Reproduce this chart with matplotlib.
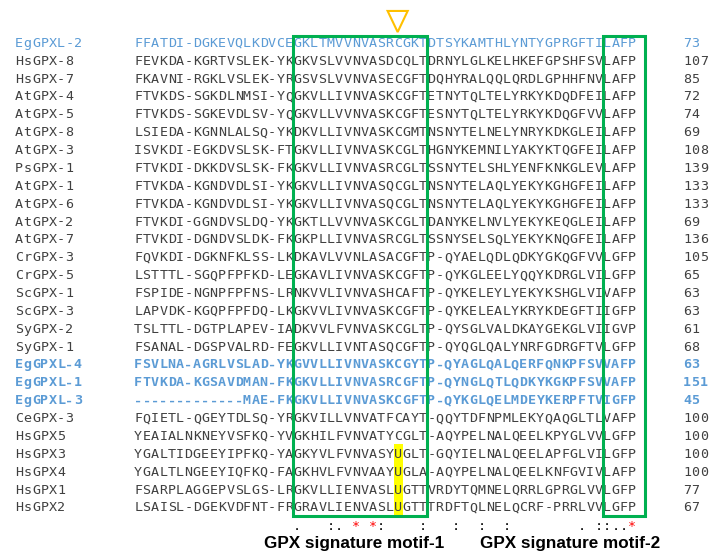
"""
GPX alignment with the two signature motifs boxed
"""

import matplotlib
matplotlib.use("Agg")
import matplotlib.pyplot as plt
from matplotlib.patches import Rectangle, Polygon

names = ["EgGPXL-2", "HsGPX-8", "HsGPX-7", "AtGPX-4", "AtGPX-5", "AtGPX-8",
         "AtGPX-3", "PsGPX-1", "AtGPX-1", "AtGPX-6", "AtGPX-2", "AtGPX-7",
         "CrGPX-3", "CrGPX-5", "ScGPX-1", "ScGPX-3", "SyGPX-2", "SyGPX-1",
         "EgGPXL-4", "EgGPXL-1", "EgGPXL-3", "CeGPX-3", "HsGPX5", "HsGPX3",
         "HsGPX4", "HsGPX1", "HsGPX2"]

seqs = [
    "FFATDI-DGKEVQLKDVCEGKLTMVVNVASRCGKTDTSYKAMTHLYNTYGPRGFTILAFP",
    "FEVKDA-KGRTVSLEK-YKGKVSLVVNVASDCQLTDRNYLGLKELHKEFGPSHFSVLAFP",
    "FKAVNI-RGKLVSLEK-YRGSVSLVVNVASECGFTDQHYRALQQLQRDLGPHHFNVLAFP",
    "FTVKDS-SGKDLNMSI-YQGKVLLIVNVASKCGFTETNYTQLTELYRKYKDQDFEILAFP",
    "FTVKDS-SGKEVDLSV-YQGKVLLVVNVASKCGFTESNYTQLTELYRKYKDQGFVVLAFP",
    "LSIEDA-KGNNLALSQ-YKDKVLLIVNVASKCGMTNSNYTELNELYNRYKDKGLEILAFP",
    "ISVKDI-EGKDVSLSK-FTGKVLLIVNVASKCGLTHGNYKEMNILYAKYKTQGFEILAFP",
    "FTVKDI-DKKDVSLSK-FKGKVLLIVNVASRCGLTSSNYTELSHLYENFKNKGLEVLAFP",
    "FTVKDA-KGNDVDLSI-YKGKVLLIVNVASQCGLTNSNYTELAQLYEKYKGHGFEILAFP",
    "FTVKDA-KGNDVDLSI-YKGKVLLIVNVASQCGLTNSNYTELAQLYEKYKGHGFEILAFP",
    "FTVKDI-GGNDVSLDQ-YKGKTLLVVNVASKCGLTDANYKELNVLYEKYKEQGLEILAFP",
    "FTVKDI-DGNDVSLDK-FKGKPLLIVNVASRCGLTSSNYSELSQLYEKYKNQGFEILAFP",
    "FQVKDI-DGKNFKLSS-LKDKAVLVVNLASACGFTP-QYAELQDLQDKYGKQGFVVLGFP",
    "LSTTTL-SGQPFPFKD-LEGKAVLIVNVASKCGFTP-QYKGLEELYQQYKDRGLVILGFP",
    "FSPIDE-NGNPFPFNS-LRNKVVLIVNVASHCAFTP-QYKELEYLYEKYKSHGLVIVAFP",
    "LAPVDK-KGQPFPFDQ-LKGKVVLIVNVASKCGFTP-QYKELEALYKRYKDEGFTIIGFP",
    "TSLTTL-DGTPLAPEV-IADKVVLFVNVASKCGLTP-QYSGLVALDKAYGEKGLVIIGVP",
    "FSANAL-DGSPVALRD-FEGKVLLIVNTASQCGFTP-QYQGLQALYNRFGDRGFTVLGFP",
    "FSVLNA-AGRLVSLAD-YKGVVLLIVNVASKCGYTP-QYAGLQALQERFQNKPFSVVAFP",
    "FTVKDA-KGSAVDMAN-FKGKVLLIVNVASRCGFTP-QYNGLQTLQDKYKGKPFSVVAFP",
    "-------------MAE-FKGKVLLIVNVASKCGFTP-QYKGLQELMDEYKERPFTVIGFP",
    "FQIETL-QGEYTDLSQ-YRGKVILLVNVATFCAYT-QQYTDFNPMLEKYQAQGLTLVAFP",
    "YEAIALNKNEYVSFKQ-YVGKHILFVNVATYCGLT-AQYPELNALQEELKPYGLVVLGFP",
    "YGALTIDGEEYIPFKQ-YAGKYVLFVNVASYUGLT-GQYIELNALQEELAPFGLVILGFP",
    "YGALTLNGEEYIQFKQ-FAGKHVLFVNVAAYUGLA-AQYPELNALQEELKNFGVIVLAFP",
    "FSARPLAGGEPVSLGS-LRGKVLLIENVASLUGTTVRDYTQMNELQRRLGPRGLVVLGFP",
    "LSAISL-DGEKVDFNT-FRGRAVLIENVASLUGTTTRDFTQLNELQCRF-PRRLVVLGFP",
]

lengths = [73, 107, 85, 72, 74, 69, 108, 139, 133, 133, 69, 136, 105, 65,
           63, 63, 61, 68, 63, 151, 45, 100, 100, 100, 100, 77, 67]

blue_rows = ["EgGPXL-2", "EgGPXL-4", "EgGPXL-1", "EgGPXL-3"]
bold_rows = ["EgGPXL-4", "EgGPXL-1", "EgGPXL-3"]

# conservation line under the alignment
conservation = (" " * 19 + "." + " " * 3 + ":." + " " + "*" + " " + "*:" + " " * 4
                + ":" + " " * 3 + ":" + " " * 2 + ":" + " " * 2 + ":" + " " * 8
                + ". ::..*")

motif1 = (19, 16)      # start column, width
motif2 = (56, 5)
sec_col = 31           # selenocysteine column
sec_rows = ["HsGPX3", "HsGPX4", "HsGPX1", "HsGPX2"]
motif_labels = ["GPX signature motif-1", "GPX signature motif-2"]

GRAY = "#404040"
BLUE = "#5b9bd5"
GREEN = "#00b050"
MONO = "DejaVu Sans Mono"
FS = 9.6


def put_chars(ax, text, x0, y, color, weight="normal"):
    """draw a string one character per column"""
    for i, ch in enumerate(text):
        if ch == " ":
            continue
        ax.text(x0 + i + 0.5, y, ch, ha="center", va="center", family=MONO,
                fontsize=FS, color=color, fontweight=weight)


fig = plt.figure(figsize=(7.11, 5.57), dpi=100)
ax = fig.add_axes([0, 0, 1, 1])
ax.set_xlim(-134 / 8.37, (711 - 134) / 8.37)
ax.set_ylim((557 - 43.3) / 17.87, -43.3 / 17.87)
ax.axis("off")

for r, (name, seq, n) in enumerate(zip(names, seqs, lengths)):
    color = BLUE if name in blue_rows else GRAY
    weight = "bold" if name in bold_rows else "normal"
    put_chars(ax, name, -14.22, r, color, weight)
    put_chars(ax, seq, 0, r, color, weight)
    put_chars(ax, str(n), 65.59, r, color, weight)

# yellow highlight on U
sec_idx = [names.index(s) for s in sec_rows]
ax.add_patch(Rectangle((sec_col + 0.05, min(sec_idx) - 0.55), 1.05,
                       max(sec_idx) - min(sec_idx) + 1.0,
                       facecolor="#ffff00", edgecolor="none", zorder=0))

# motif boxes
top, bottom = -0.41, len(names) - 1 + 0.45
for start, width in [motif1, motif2]:
    ax.add_patch(Rectangle((start, top), width, bottom - top, fill=False,
                           edgecolor=GREEN, linewidth=2.2, zorder=3))

# triangle over the catalytic residue
cx = sec_col + 0.5
ax.add_patch(Polygon([(cx - 1.2, -1.81), (cx + 1.2, -1.81), (cx, -0.63)],
                     closed=True, fill=False, edgecolor="#ffc000",
                     linewidth=1.5))

# conservation symbols
for i, ch in enumerate(conservation):
    if ch == " ":
        continue
    ax.text(i + 0.5, 27.23, ch, ha="center", va="baseline", family=MONO,
            fontsize=FS, color="red" if ch == "*" else "black")

# motif labels
ax.text(26.3, 28.0, motif_labels[0], ha="center", va="center",
        family="Liberation Sans", fontweight="bold", fontsize=12.3)
ax.text(52.1, 28.0, motif_labels[1], ha="center", va="center",
        family="Liberation Sans", fontweight="bold", fontsize=12.3)

fig.savefig("out.png", dpi=100)
